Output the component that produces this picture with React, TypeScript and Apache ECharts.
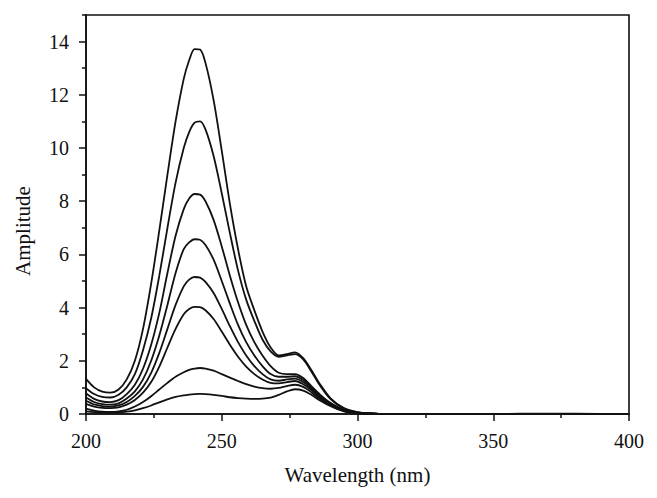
import { useEffect, useRef } from 'react';
import * as echarts from 'echarts';

const wavelengths = [200, 203, 206, 209, 212, 215, 218, 221, 224, 227, 230, 233, 236, 238, 240, 242, 244, 247, 250, 253, 256, 259, 262, 265, 268, 271, 274, 277, 280, 283, 286, 290, 295, 300, 305, 310, 320, 340, 360, 380, 400];

const curve1 = [1.32, 1.0, 0.84, 0.8, 0.92, 1.3, 2.0, 3.2, 4.9, 6.9, 9.0, 11.0, 12.6, 13.3, 13.72, 13.7, 13.2, 11.8, 9.9, 7.9, 6.2, 4.8, 3.9, 3.1, 2.5, 2.2, 2.25, 2.32, 2.1, 1.65, 1.15, 0.6, 0.22, 0.07, 0.02, 0, 0, 0, 0.01, 0.01, 0];
const curve2 = [0.97, 0.75, 0.64, 0.62, 0.72, 1.0, 1.5, 2.4, 3.6, 5.2, 7.0, 8.7, 10.0, 10.6, 10.95, 11.0, 10.7, 9.7, 8.3, 6.8, 5.4, 4.3, 3.5, 2.8, 2.35, 2.15, 2.2, 2.25, 2.05, 1.6, 1.1, 0.57, 0.2, 0.06, 0.02, 0, 0, 0, 0, 0, 0];
const curve3 = [0.78, 0.57, 0.47, 0.45, 0.52, 0.75, 1.1, 1.7, 2.6, 3.8, 5.3, 6.7, 7.7, 8.1, 8.27, 8.25, 8.0, 7.3, 6.3, 5.2, 4.2, 3.35, 2.7, 2.2, 1.8, 1.55, 1.5, 1.5, 1.35, 1.05, 0.75, 0.42, 0.15, 0.05, 0.01, 0, 0, 0, 0, 0, 0];
const curve4 = [0.62, 0.45, 0.37, 0.35, 0.4, 0.58, 0.85, 1.3, 2.0, 2.95, 4.1, 5.3, 6.2, 6.45, 6.57, 6.55, 6.35, 5.8, 5.0, 4.15, 3.35, 2.7, 2.2, 1.8, 1.5, 1.4, 1.4, 1.42, 1.28, 1.0, 0.7, 0.4, 0.14, 0.04, 0.01, 0, 0, 0, 0, 0, 0];
const curve5 = [0.5, 0.36, 0.3, 0.28, 0.32, 0.45, 0.68, 1.02, 1.55, 2.3, 3.2, 4.1, 4.8, 5.05, 5.15, 5.13, 4.97, 4.55, 3.95, 3.3, 2.7, 2.2, 1.8, 1.5, 1.3, 1.25, 1.3, 1.33, 1.2, 0.95, 0.66, 0.37, 0.13, 0.04, 0.01, 0, 0, 0, 0, 0, 0];
const curve6 = [0.38, 0.28, 0.23, 0.22, 0.25, 0.35, 0.53, 0.8, 1.2, 1.78, 2.5, 3.2, 3.75, 3.95, 4.03, 4.02, 3.9, 3.57, 3.1, 2.6, 2.15, 1.78, 1.5, 1.3, 1.17, 1.15, 1.2, 1.24, 1.12, 0.9, 0.63, 0.35, 0.12, 0.03, 0.01, 0, 0, 0, 0, 0, 0];
const curve7 = [0.2, 0.13, 0.09, 0.08, 0.1, 0.16, 0.28, 0.45, 0.67, 0.92, 1.17, 1.4, 1.57, 1.66, 1.71, 1.73, 1.71, 1.63, 1.5, 1.37, 1.24, 1.12, 1.03, 0.97, 0.95, 0.98, 1.05, 1.1, 1.02, 0.82, 0.58, 0.32, 0.11, 0.03, 0.01, 0, 0, 0, 0, 0, 0];
const curve8 = [0.1, 0.07, 0.05, 0.05, 0.06, 0.09, 0.14, 0.22, 0.32, 0.44, 0.55, 0.64, 0.7, 0.73, 0.75, 0.76, 0.75, 0.72, 0.68, 0.63, 0.6, 0.58, 0.57, 0.58, 0.62, 0.72, 0.85, 0.93, 0.88, 0.72, 0.52, 0.3, 0.1, 0.03, 0.01, 0, 0, 0, 0, 0, 0];

const curves = [curve1, curve2, curve3, curve4, curve5, curve6, curve7, curve8];

const xMajorTicks = [200, 250, 300, 350, 400];
const yMajorTicks = [0, 2, 4, 6, 8, 10, 12, 14];
const yMinorTicks = [1, 3, 5, 7, 9, 11, 13, 15];

const FONT = '"Liberation Serif", "Times New Roman", serif';

export default function App() {
  const ref = useRef<HTMLDivElement>(null);
  useEffect(() => {
    if (!ref.current) return;
    const chart = echarts.init(ref.current, null, { renderer: 'svg' });
    const axisLine = { show: true, lineStyle: { color: '#111', width: 1.6 } };
    chart.setOption({
      animation: false,
      backgroundColor: '#fff',
      grid: { left: 86, right: 28, top: 15, bottom: 84, show: true, borderColor: '#111', borderWidth: 1.6, backgroundColor: 'transparent' },
      xAxis: [
        {
          type: 'value', min: 200, max: 400, interval: 50, position: 'bottom',
          axisLine: { ...axisLine, onZero: false },
          axisTick: { show: true, inside: false, length: 7, lineStyle: { color: '#111', width: 1.5 } },
          minorTick: { show: true, splitNumber: 2, length: 4, lineStyle: { color: '#111', width: 1.5 } },
          axisLabel: { show: true, color: '#111', fontSize: 20, fontFamily: FONT, margin: 17, customValues: xMajorTicks },
          splitLine: { show: false },
          minorSplitLine: { show: false },
          name: 'Wavelength (nm)', nameLocation: 'middle', nameGap: 50,
          nameTextStyle: { color: '#111', fontSize: 21, fontFamily: FONT },
        },
      ],
      yAxis: [
        {
          type: 'value', min: 0, max: 15, interval: 2, position: 'left',
          axisLine: { ...axisLine, onZero: false },
          axisTick: { show: true, inside: false, length: 7, customValues: yMajorTicks, lineStyle: { color: '#111', width: 1.5 } },
          axisLabel: { show: true, color: '#111', fontSize: 20, fontFamily: FONT, margin: 17, customValues: yMajorTicks },
          splitLine: { show: false },
        },
        {
          type: 'value', min: 0, max: 15, interval: 1, position: 'left', offset: 0,
          axisLine: { show: false, onZero: false },
          axisTick: { show: true, inside: false, length: 4, customValues: yMinorTicks, lineStyle: { color: '#111', width: 1.5 } },
          axisLabel: { show: false },
          splitLine: { show: false },
        },
      ],
      graphic: [
        {
          type: 'text', x: 23, y: 231, rotation: Math.PI / 2,
          style: { text: 'Amplitude', fill: '#111', fontSize: 21, fontFamily: FONT, align: 'center', verticalAlign: 'middle' },
        },
      ],
      series: curves.map((c, k) => ({
        type: 'line',
        name: 'c' + (k + 1),
        xAxisIndex: 0,
        yAxisIndex: 0,
        data: wavelengths.map((w, i) => [w, c[i]]),
        showSymbol: false,
        symbol: 'none',
        smooth: 0.3,
        lineStyle: { color: '#111', width: 1.8 },
        silent: true,
      })),
    });
    return () => chart.dispose();
  }, []);
  return <div ref={ref} style={{ position: 'fixed', left: 0, top: 0, width: 657, height: 498 }} />;
}
